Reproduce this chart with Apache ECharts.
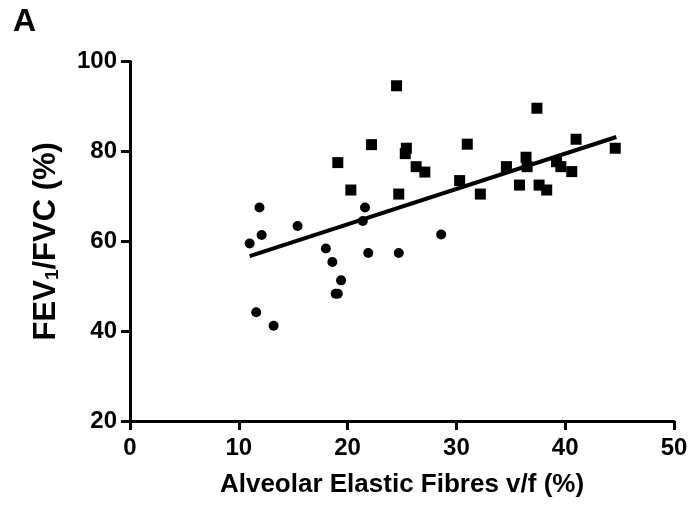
<!DOCTYPE html>
<html>
<head>
<meta charset="utf-8">
<script src="https://cdn.jsdelivr.net/npm/echarts@6/dist/echarts.min.js"></script>
<style>
  html, body { margin: 0; padding: 0; background: #fff; }
  #main { width: 693px; height: 515px; }
</style>
</head>
<body>
<div id="main"></div>
<script>
  // circles: [elastic fibres v/f %, FEV1/FVC %]
  var circlePts = [
    [11.0, 59.5], [12.1, 61.4], [11.9, 67.5], [15.4, 63.4], [18.0, 58.4],
    [18.6, 55.4], [19.4, 51.3], [18.9, 48.3], [19.1, 48.3], [11.6, 44.2],
    [13.2, 41.2], [21.9, 57.4], [24.7, 57.4], [28.6, 61.5], [21.6, 67.5],
    [21.4, 64.5]
  ];
  // squares
  var squarePts = [
    [24.5, 94.6], [22.2, 81.5], [19.1, 77.5], [20.3, 71.4], [24.7, 70.5],
    [37.4, 89.6], [25.4, 80.7], [25.3, 79.5], [31.0, 81.6], [26.3, 76.6],
    [27.1, 75.4], [30.3, 73.5], [32.2, 70.5], [34.6, 76.6], [36.4, 78.7],
    [36.5, 76.6], [35.8, 72.5], [37.6, 72.5], [38.3, 71.4], [39.2, 77.7],
    [39.6, 76.6], [40.6, 75.5], [41.0, 82.7], [44.6, 80.7]
  ];
  // fitted line ends
  var fitLine = [[11.0, 56.7], [44.7, 83.2]];

  var xTicks = [0, 10, 20, 30, 40, 50];
  var yTicks = [20, 40, 60, 80, 100];

  var font = 'Liberation Sans, Arial, sans-serif';
  var chart = echarts.init(document.getElementById('main'));

  chart.setOption({
    animation: false,
    backgroundColor: '#fff',
    grid: { left: 130, right: 19, top: 61.5, bottom: 94 },
    graphic: [{
      type: 'text', left: 13, top: 6,
      style: { text: 'A', font: 'bold 32px ' + font, fill: '#000' }
    }],
    xAxis: {
      type: 'value',
      min: xTicks[0], max: xTicks[xTicks.length - 1], interval: 10,
      name: 'Alveolar Elastic Fibres v/f (%)',
      nameLocation: 'middle',
      nameGap: 51,
      nameTextStyle: { fontFamily: font, fontWeight: 'bold', fontSize: 26, color: '#000' },
      axisLine: { onZero: false, lineStyle: { color: '#000', width: 3 } },
      axisTick: { length: 9, lineStyle: { color: '#000', width: 3 } },
      axisLabel: { margin: 15, fontFamily: font, fontWeight: 'bold', fontSize: 24, color: '#000' },
      splitLine: { show: false }
    },
    yAxis: {
      type: 'value',
      min: yTicks[0], max: yTicks[yTicks.length - 1], interval: 20,
      name: '{a|FEV}{s|1}{a|/FVC (%)}',
      nameLocation: 'middle',
      nameGap: 68,
      nameTextStyle: {
        fontFamily: font, fontWeight: 'bold', fontSize: 31, color: '#000',
        rich: {
          a: { fontFamily: font, fontWeight: 'bold', fontSize: 31, color: '#000' },
          s: { fontFamily: font, fontWeight: 'bold', fontSize: 19, color: '#000', padding: [12, 0, 0, 0] }
        }
      },
      axisLine: { onZero: false, lineStyle: { color: '#000', width: 3 } },
      axisTick: { length: 9, lineStyle: { color: '#000', width: 3 } },
      axisLabel: { margin: 13, fontFamily: font, fontWeight: 'bold', fontSize: 24, color: '#000' },
      splitLine: { show: false }
    },
    series: [
      {
        type: 'scatter', data: circlePts, symbol: 'circle', symbolSize: 10,
        itemStyle: { color: '#000', opacity: 1 }
      },
      {
        type: 'scatter', data: squarePts, symbol: 'rect', symbolSize: 11,
        itemStyle: { color: '#000', opacity: 1 }
      },
      {
        type: 'line', data: fitLine, showSymbol: false,
        lineStyle: { color: '#000', width: 4 }
      }
    ]
  });
</script>
</body>
</html>
